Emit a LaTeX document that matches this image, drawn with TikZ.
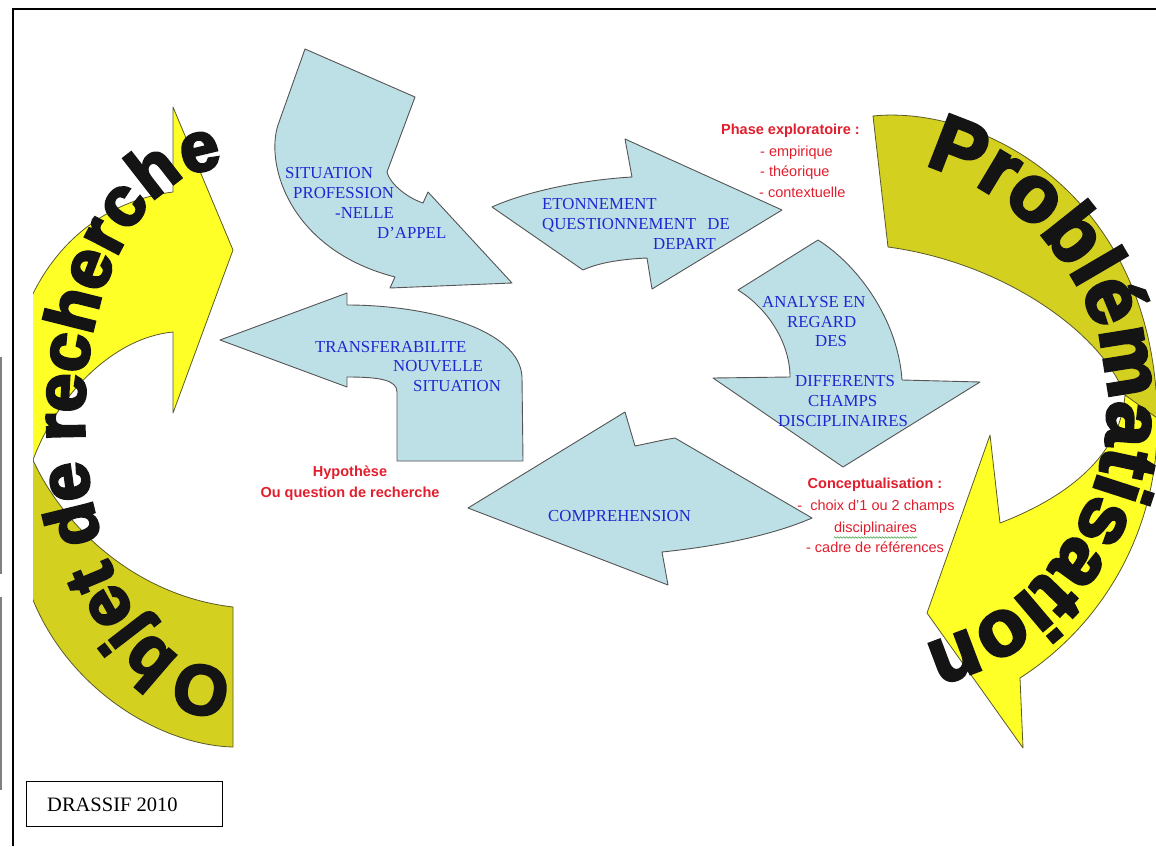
\documentclass[tikz,border=0pt]{standalone}
\usepackage{fontspec}
\setmainfont{Liberation Serif}
\newfontfamily\arialf{Liberation Sans}
\newfontfamily\wafont{Liberation Sans}[UprightFont={* Bold}, FakeBold=4]
\usetikzlibrary{decorations.text,decorations.pathmorphing}
\definecolor{ablue}{RGB}{189,223,230}
\definecolor{aline}{RGB}{85,85,85}
\definecolor{tblue}{RGB}{30,40,210}
\definecolor{tred}{RGB}{225,30,45}
\definecolor{ybright}{RGB}{255,255,40}
\definecolor{ydark}{RGB}{212,208,32}
\definecolor{yline}{RGB}{90,90,40}
\definecolor{wavy}{RGB}{60,160,60}
\definecolor{watext}{RGB}{20,20,20}
\begin{document}
\begin{tikzpicture}[x=1pt,y=-1pt,
  barrow/.style={fill=ablue, draw=aline, line width=0.9pt, line join=round},
  yband/.style={draw=yline, line width=0.8pt, line join=round},
  btext/.style={anchor=base west, inner sep=0, text=tblue, font=\fontsize{16.8}{19}\selectfont},
  rtext/.style={anchor=base west, inner sep=0, text=tred, font=\arialf\fontsize{14.5}{17}\selectfont},
  rbold/.style={anchor=base west, inner sep=0, text=tred, font=\arialf\bfseries\fontsize{14.5}{17}\selectfont},
]
\useasboundingbox (0,0) rectangle (1156,846);
\clip (0,0) rectangle (1156,846);

% frame
\draw[line width=2pt] (12.5,846) -- (12.5,8.5) -- (1156,8.5);
\draw[gray, line width=1.2pt] (1,357) -- (1,574);
\draw[gray, line width=1.2pt] (1,597) -- (1,790);

% left curved arrow
\begin{scope}
\clip (33,20) rectangle (600,846);
\path[yband, fill=ydark] (233,607) -- (233,747) .. controls (160,745) and (70,690) .. (33,600) -- (20,560) -- (20,450) -- (33,460) .. controls (60,520) and (130,595) .. (233,607) -- cycle;
\path[yband, fill=ybright] (33,460) .. controls (55,400) and (110,338) .. (173,332) -- (173,413) -- (233,250) -- (173,107) -- (173,192) .. controls (110,200) and (50,240) .. (22,320) -- (20,330) -- (20,470) -- cycle;
\path[decorate, decoration={text along path, text align=center, text color=watext,
  text={|\wafont\fontsize{70}{70}\selectfont|Objet de recherche}}]
  (227,668) arc[start angle=88, end angle=268, x radius=138, y radius=250];
\end{scope}

% right curved arrow
\path[yband, fill=ydark] (873,116) .. controls (980,105) and (1140,190) .. (1156,390) -- (1160,390) -- (1160,450) -- (1125,395) .. controls (1100,330) and (1000,262) .. (888,247) -- cycle;
\path[yband, fill=ybright] (1125,395) -- (1157,418) .. controls (1160,520) and (1110,620) .. (1020,678) -- (1023,748) -- (927,613) -- (990,435) -- (1000,523) .. controls (1060,500) and (1120,460) .. (1125,395) -- cycle;
\path[decorate, decoration={text along path, text align=center, text color=watext,
  text={|\wafont\fontsize{80}{80}\selectfont|Problématisation}}]
  (860,157) arc[start angle=-90, end angle=90, radius=248];

% blue arrows
\path[barrow] (305,49) -- (415,97) -- (387,172) .. controls (389,182) and (405,197) .. (423,203) -- (428,192) -- (512,283) -- (390,288) -- (395,277) .. controls (290,250) and (265,165) .. (278,125) -- cycle;
\path[barrow] (492,207) .. controls (525,192) and (580,180) .. (632,177) -- (625,139) -- (782,210) -- (652,289) -- (647,258) .. controls (625,259) and (600,262) .. (583,270) -- cycle;
\path[barrow] (818,240) .. controls (858,265) and (898,320) .. (902,380) -- (980,382) -- (843,467) -- (713,378) -- (790,377) .. controls (790,345) and (770,310) .. (738,290) -- cycle;
\path[barrow] (468,508) -- (625,412) -- (635,446) .. controls (650,443) and (662,440) .. (675,438) -- (812,518) .. controls (780,532) and (730,545) .. (662,552) -- (668,585) -- cycle;
\path[barrow] (220,340) -- (347,293) -- (347,305) .. controls (430,305) and (520,330) .. (522,377) -- (523,461) -- (397,461) -- (397,392) .. controls (397,380) and (380,377) .. (347,377) -- (347,387) -- cycle;

% blue texts
\node[btext] (s1) at (285,178.5) {SITUATION};
\node[btext] (s2) at (293,198.5) {PROFESSION};
\node[btext] (s3) at (335,218.5) {-NELLE};
\node[btext] (s4) at (377,238.5) {D’APPEL};
\node[btext] (e1) at (542,209.5) {ETONNEMENT};
\node[btext] (e2) at (542,229.5) {QUESTIONNEMENT};
\node[btext, anchor=base east] (e3) at (730,229.5) {DE};
\node[btext] (e4) at (653,249.5) {DEPART};
\node[btext] (a1) at (762,307.5) {ANALYSE EN};
\node[btext] (a2) at (787,327.5) {REGARD};
\node[btext] (a3) at (815,346.5) {DES};
\node[btext] (a4) at (795,386.5) {DIFFERENTS};
\node[btext] (a5) at (808,406.5) {CHAMPS};
\node[btext] (a6) at (778,426.5) {DISCIPLINAIRES};
\node[btext] (t1) at (315,352.5) {TRANSFERABILITE};
\node[btext] (t2) at (393,371.5) {NOUVELLE};
\node[btext] (t3) at (413,391.5) {SITUATION};
\node[btext] (c1) at (548,521.5) {COMPREHENSION};

% red texts
\node[rbold] (p0) at (721,134.5) {Phase exploratoire :};
\node[rtext] (p1) at (760,156.5) {- empirique};
\node[rtext] (p2) at (760,176.5) {- théorique};
\node[rtext] (p3) at (759,197.5) {- contextuelle};
\node[rbold, anchor=base] (h1) at (350,476.5) {Hypothèse};
\node[rbold, anchor=base] (h2) at (350,497.5) {Ou question de recherche};
\node[rbold, anchor=base] (k0) at (875,488.5) {Conceptualisation :};
\node[rtext, anchor=base] (k1) at (876,510.5) {-\ \ choix d’1 ou 2 champs};
\node[rtext, anchor=base] (k2) at (875.5,532.5) {disciplinaires};
\node[rtext, anchor=base] (k3) at (875,552.5) {- cadre de références};
\draw[wavy, line width=0.5pt, decorate, decoration={snake, amplitude=0.7pt, segment length=3pt}]
  ([yshift=-5pt]k2.base west) -- ([yshift=-5pt]k2.base east);

% DRASSIF box
\node[draw, line width=1.3pt, minimum width=196pt, minimum height=45pt, anchor=north west, inner sep=0] (dbox) at (26,781) {};
\node[anchor=base west, inner sep=0, font=\fontsize{20.5}{24}\selectfont] (dtext) at (47,811) {DRASSIF 2010};
\end{tikzpicture}
\end{document}
